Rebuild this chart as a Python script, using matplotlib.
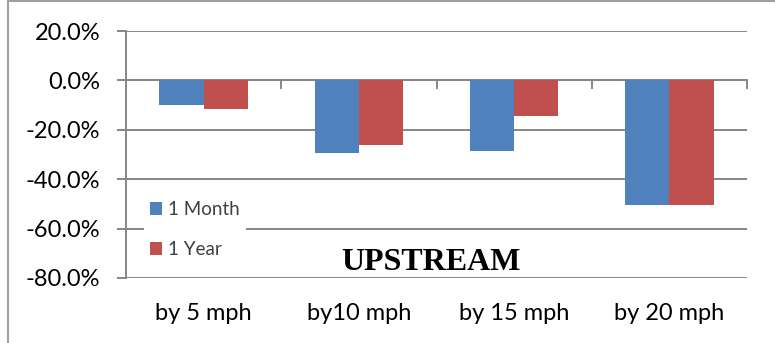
import numpy as np
import matplotlib
matplotlib.use("Agg")
import matplotlib.pyplot as plt
from matplotlib.patches import Rectangle
from matplotlib.ticker import FuncFormatter

# data (percent change)
categories = ["by 5 mph", "by10 mph", "by 15 mph", "by 20 mph"]
month_vals = [-10.1, -29.2, -28.7, -50.3]
year_vals = [-11.7, -26.0, -14.4, -50.3]
series_names = ["1 Month", "1 Year"]
title = "UPSTREAM"

blue = "#4F81BD"
red = "#C0504D"
grid_col = "#868686"

plt.rcParams['font.family'] = ['Lato', 'DejaVu Sans']

fig = plt.figure(figsize=(7.75, 3.43), dpi=100)
ax = fig.add_axes([126 / 775, 1 - 278 / 343, (747 - 126) / 775, (278 - 31) / 343])

x = np.arange(len(categories))
w = 0.285
ax.bar(x - w / 2, month_vals, w, color=blue, label=series_names[0], zorder=3)
ax.bar(x + w / 2, year_vals, w, color=red, label=series_names[1], zorder=3)

ax.set_xlim(-0.5, len(categories) - 0.5)
ax.set_ylim(-80, 20)
ax.set_yticks(np.arange(-80, 21, 20))
ax.yaxis.set_major_formatter(FuncFormatter(lambda v, p: "%.1f%%" % v))
ax.grid(axis='y', color=grid_col, lw=1.4, zorder=1)
ax.tick_params(axis='y', length=6.5, width=1.4, color=grid_col, pad=12, labelsize=17)

ax.set_xticks(x)
ax.set_xticklabels(categories)
ax.tick_params(axis='x', length=0, pad=18, labelsize=17)

for s in ['top', 'right', 'bottom']:
    ax.spines[s].set_visible(False)
ax.spines['left'].set_color(grid_col)
ax.spines['left'].set_linewidth(1.4)

# category axis crossing at 0%, ticks hanging below it
sec = ax.secondary_xaxis(0.8)
sec.set_alignment('bottom')
sec.set_xticks(x + 0.5)
sec.set_xticklabels([])
sec.tick_params(length=6.5, width=1.4, color=grid_col, direction='out')
sec.spines['bottom'].set_color(grid_col)
sec.spines['bottom'].set_linewidth(1.4)

leg = ax.legend(loc='center left', bbox_to_anchor=(0.029, 0.196), frameon=True,
                fontsize=13.5, handlelength=0.65, handleheight=0.65, handletextpad=0.35,
                labelspacing=1.2, borderpad=0.3, borderaxespad=0)
leg.get_frame().set_edgecolor('none')
leg.get_frame().set_facecolor('white')
leg.get_frame().set_alpha(1)
leg.set_zorder(5)
for t in leg.get_texts():
    t.set_color('#404040')

ax.text(0.491, 0.061, title, transform=ax.transAxes, ha='center', va='center',
        fontsize=23, fontweight='bold', family='Liberation Serif', zorder=6)

# outer chart border
fig.patches.append(Rectangle((8 / 775, -0.05), 1.0, 1.05 - 1.5 / 343,
                             transform=fig.transFigure, fill=False,
                             edgecolor='#a0a0a0', lw=1.5))

fig.savefig("out.png", dpi=100)
